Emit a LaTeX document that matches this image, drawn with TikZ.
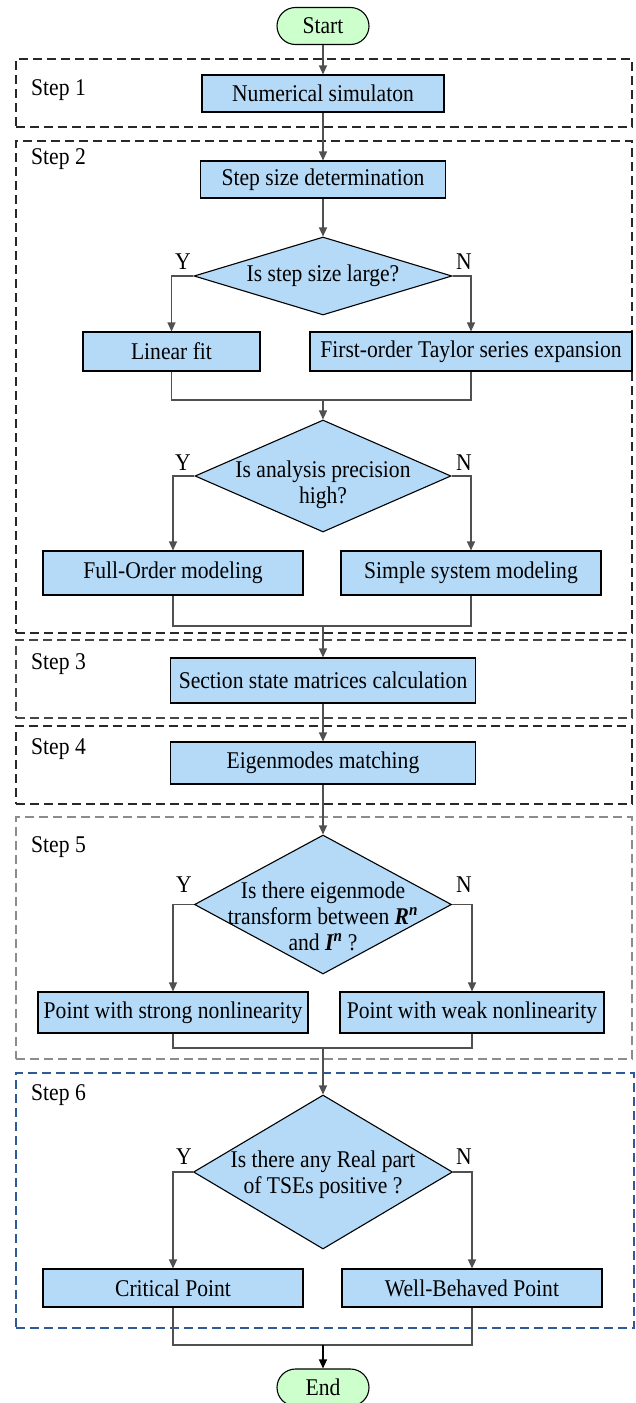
\documentclass[tikz,border=0pt]{standalone}
\usepackage{fontspec}
\setmainfont{Liberation Serif}[FakeStretch=0.9]
\usetikzlibrary{arrows.meta,shapes.geometric,shapes.misc}
\definecolor{boxblue}{RGB}{180,218,248}
\definecolor{termgreen}{RGB}{204,255,204}
\definecolor{linegray}{RGB}{80,80,80}
\definecolor{framedark}{RGB}{40,40,40}
\definecolor{framemid}{RGB}{70,70,70}
\definecolor{framelight}{RGB}{140,140,140}
\definecolor{frameblue}{RGB}{46,90,150}
\tikzset{
  x=1pt, y=-1pt,
  every node/.style={font=\fontsize{24}{26}\selectfont},
  procbox/.style={draw=black, fill=boxblue, line width=1.1pt, inner sep=0pt, rectangle},
  termbox/.style={draw=black, fill=termgreen, line width=1.1pt, inner sep=0pt, rounded rectangle},
  decbox/.style={draw=black, fill=boxblue, line width=1.1pt, inner sep=0pt, diamond},
  dectext/.style={align=center, inner sep=0pt},
  frame/.style={draw, line width=1.1pt, dash pattern=on 9pt off 5pt, inner sep=0pt, rectangle},
  steplabel/.style={anchor=west, inner sep=0pt},
  yn/.style={inner sep=0pt},
  conn/.style={draw=linegray, line width=1.1pt, -{Triangle[length=9pt,width=8pt]}},
  plain/.style={draw=linegray, line width=1.1pt},
}
\begin{document}
\begin{tikzpicture}
\useasboundingbox (0,0) rectangle (635,1403);

% step frames
\node[frame, draw=framedark, minimum width=616pt, minimum height=68pt] (s1) at (324,93) {};
\node[frame, draw=framedark, minimum width=616pt, minimum height=492pt] (s2) at (324,387) {};
\node[frame, draw=framemid, minimum width=616pt, minimum height=78pt] (s3) at (324,679) {};
\node[frame, draw=framedark, minimum width=616pt, minimum height=78pt] (s4) at (324,765) {};
\node[frame, draw=framelight, minimum width=616pt, minimum height=242pt] (s5) at (324,938) {};
\node[frame, draw=frameblue, minimum width=618pt, minimum height=255pt] (s6) at (325,1200.5) {};

\node[steplabel] (l1) at (31,90) {Step 1};
\node[steplabel] (l2) at (31,159) {Step 2};
\node[steplabel] (l3) at (31,664) {Step 3};
\node[steplabel] (l4) at (31,749) {Step 4};
\node[steplabel] (l5) at (31,847) {Step 5};
\node[steplabel] (l6) at (31,1095) {Step 6};

% nodes
\node[termbox, minimum width=92pt, minimum height=37pt] (start) at (323,26) {Start};
\node[procbox, minimum width=242pt, minimum height=37pt] (num) at (323,93.5) {Numerical simulaton};
\node[procbox, minimum width=245pt, minimum height=37pt] (ssd) at (323,179.5) {Step size determination};
\node[decbox, minimum width=258pt, minimum height=78pt] (d1) at (323,276) {};
\node[dectext] (t1) at (d1.center) {Is step size large?};
\node[procbox, minimum width=177pt, minimum height=39pt] (lin) at (171.5,351.5) {Linear fit};
\node[procbox, minimum width=322pt, minimum height=39pt] (tay) at (471,351.5) {First-order Taylor series expansion};
\coordinate (m1) at (323,400);
\node[decbox, minimum width=256pt, minimum height=112pt] (d2) at (323,476) {};
\node[dectext] (t2) at ([yshift=-9pt]d2.center) {Is analysis precision\\high?};
\node[procbox, minimum width=260pt, minimum height=44pt] (full) at (173,573) {Full-Order modeling};
\node[procbox, minimum width=260pt, minimum height=44pt] (simple) at (471,573) {Simple system modeling};
\coordinate (m2) at (323,626);
\node[procbox, minimum width=305pt, minimum height=45pt] (sec) at (323,680.5) {Section state matrices calculation};
\node[procbox, minimum width=305pt, minimum height=42pt] (eig) at (323,763) {Eigenmodes matching};
\node[decbox, minimum width=257pt, minimum height=139pt] (d3) at (323,904.5) {};
\node[dectext] (t3) at ([yshift=-12pt]d3.center) {Is there eigenmode\\transform between \textbf{\textit{R\textsuperscript{n}}}\\and \textbf{\textit{I\textsuperscript{n}}} ?};
\node[procbox, minimum width=270pt, minimum height=41pt] (strong) at (173,1012.5) {Point with strong nonlinearity};
\node[procbox, minimum width=264pt, minimum height=41pt] (weak) at (472,1012.5) {Point with weak nonlinearity};
\coordinate (m3) at (323,1048);
\node[decbox, minimum width=259pt, minimum height=154pt] (d4) at (323,1172) {};
\node[dectext] (t4) at ([yshift=-3pt]d4.center) {Is there any Real part\\of TSEs positive ?};
\node[procbox, minimum width=260pt, minimum height=38pt] (crit) at (173,1288) {Critical Point};
\node[procbox, minimum width=260pt, minimum height=38pt] (well) at (472,1288) {Well-Behaved Point};
\coordinate (m4) at (323,1345);
\node[termbox, minimum width=92pt, minimum height=37pt] (end) at (323,1387.5) {End};

% Y/N labels
\node[yn] (y1) at (183,262) {Y};
\node[yn] (n1) at (464,262) {N};
\node[yn] (y2) at (183,463) {Y};
\node[yn] (n2) at (464,463) {N};
\node[yn] (y3) at (184,885) {Y};
\node[yn] (n3) at (464,885) {N};
\node[yn] (y4) at (184,1157) {Y};
\node[yn] (n4) at (464,1157) {N};

% connectors
\draw[conn] (start.south) -- (num.north);
\draw[conn] (num.south) -- (ssd.north);
\draw[conn] (ssd.south) -- (d1.north);
\draw[conn] (d1.west) -| (lin.north);
\draw[conn] (d1.east) -| (tay.north);
\draw[plain] (lin.south) |- (m1) -| (tay.south);
\draw[conn] (m1) -- (d2.north);
\draw[conn] (d2.west) -| (full.north);
\draw[conn] (d2.east) -| (simple.north);
\draw[plain] (full.south) |- (m2) -| (simple.south);
\draw[conn] (m2) -- (sec.north);
\draw[conn] (sec.south) -- (eig.north);
\draw[conn] (eig.south) -- (d3.north);
\draw[conn] (d3.west) -| (strong.north);
\draw[conn] (d3.east) -| (weak.north);
\draw[plain] (strong.south) |- (m3) -| (weak.south);
\draw[conn] (m3) -- (d4.north);
\draw[conn] (d4.west) -| (crit.north);
\draw[conn] (d4.east) -| (well.north);
\draw[plain] (crit.south) |- (m4) -| (well.south);
\draw[conn, draw=black, -{Triangle[length=9pt,width=8pt]}] (m4) -- (end.north);
\end{tikzpicture}
\end{document}
